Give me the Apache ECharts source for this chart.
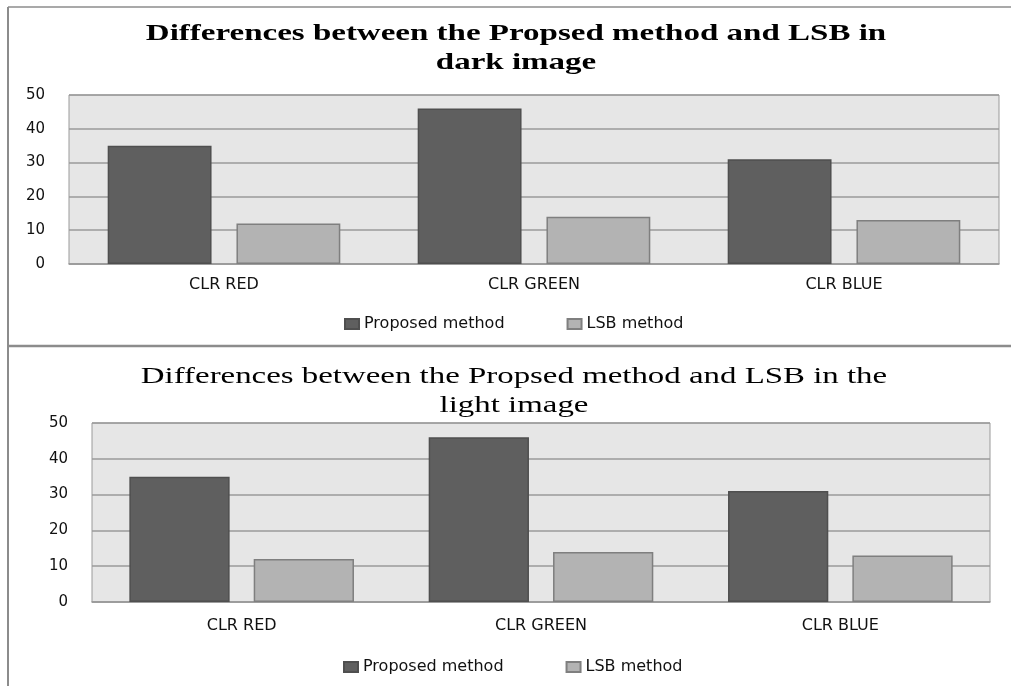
<!DOCTYPE html>
<html>
<head>
<meta charset="utf-8">
<script src="https://cdn.jsdelivr.net/npm/echarts@6/dist/echarts.min.js"></script>
<style>
html,body{margin:0;padding:0;background:#fff;}
#main{width:1011px;height:686px;}
</style>
</head>
<body>
<div id="main"></div>
<script>
const categories = ['CLR RED', 'CLR GREEN', 'CLR BLUE'];
const seriesNames = ['Proposed method', 'LSB method'];
const darkProposed = [35, 46, 31];
const darkLSB = [12, 14, 13];
const lightProposed = [35, 46, 31];
const lightLSB = [12, 14, 13];
const yTicks = [0, 10, 20, 30, 40, 50];

const topTitle = 'Differences between the Propsed method and LSB in\ndark image';
const bottomTitle = 'Differences between the Propsed method and LSB in the\nlight image';

const chart = echarts.init(document.getElementById('main'));
const sans = 'DejaVu Sans';
const serif = 'Liberation Serif';

function xAxisCfg(gridIndex, margin) {
  return {
    type: 'category', gridIndex: gridIndex, data: categories,
    axisTick: {show: false},
    axisLine: {lineStyle: {color: '#9a9a9a', width: 1.5}},
    axisLabel: {fontFamily: sans, fontSize: 16, color: '#111', margin: margin}
  };
}
function yAxisCfg(gridIndex) {
  return {
    type: 'value', gridIndex: gridIndex, min: yTicks[0], max: yTicks[yTicks.length - 1], interval: 10,
    axisLine: {show: false}, axisTick: {show: false},
    splitLine: {lineStyle: {color: '#9a9a9a', width: 1.5}},
    axisLabel: {fontFamily: sans, fontSize: 15, color: '#111', margin: 24}
  };
}
function barSeries(name, data, idx, color, border) {
  return {
    name: name, type: 'bar', xAxisIndex: idx, yAxisIndex: idx, data: data,
    barWidth: '33.5%', barGap: '24%',
    itemStyle: {color: color, borderColor: border, borderWidth: 1.5}
  };
}
const dark = '#5f5f5f', darkB = '#4f4f4f', light = '#b3b3b3', lightB = '#7f7f7f';
const legendText = {fontFamily: sans, fontSize: 16, color: '#111'};

chart.setOption({
  animation: false,
  backgroundColor: '#fff',
  legend: [
    {data: seriesNames.slice(), left: 339, top: 311, icon: 'rect', itemWidth: 14, itemHeight: 10, itemGap: 62,
     textStyle: legendText},
    {data: seriesNames.map(n => n + ' '), left: 338, top: 654, icon: 'rect', itemWidth: 14, itemHeight: 10, itemGap: 62,
     textStyle: legendText, formatter: n => n.trim()}
  ],
  grid: [
    {left: 69, top: 95, width: 930, height: 169, backgroundColor: '#e6e6e6', show: true, borderColor: '#9a9a9a', borderWidth: 1},
    {left: 92, top: 423, width: 898, height: 179, backgroundColor: '#e6e6e6', show: true, borderColor: '#9a9a9a', borderWidth: 1}
  ],
  xAxis: [xAxisCfg(0, 13), xAxisCfg(1, 16)],
  yAxis: [yAxisCfg(0), yAxisCfg(1)],
  series: [
    barSeries(seriesNames[0], darkProposed, 0, dark, darkB),
    barSeries(seriesNames[1], darkLSB, 0, light, lightB),
    barSeries(seriesNames[0] + ' ', lightProposed, 1, dark, darkB),
    barSeries(seriesNames[1] + ' ', lightLSB, 1, light, lightB)
  ],
  graphic: [
    {type: 'text', x: 516, y: 48, scaleX: 1.375,
     style: {text: topTitle, align: 'center', verticalAlign: 'middle', fontFamily: serif, fontWeight: 'bold',
             fontSize: 24, lineHeight: 29, fill: '#000'}},
    {type: 'text', x: 514, y: 391, scaleX: 1.37,
     style: {text: bottomTitle, align: 'center', verticalAlign: 'middle', fontFamily: serif, fontWeight: 'normal',
             fontSize: 24, lineHeight: 29, fill: '#000'}},
    {type: 'line', shape: {x1: 8, y1: 7, x2: 1011, y2: 7}, style: {stroke: '#8c8c8c', lineWidth: 1.5}},
    {type: 'line', shape: {x1: 8, y1: 7, x2: 8, y2: 686}, style: {stroke: '#8c8c8c', lineWidth: 2}},
    {type: 'line', shape: {x1: 8, y1: 346, x2: 1011, y2: 346}, style: {stroke: '#8c8c8c', lineWidth: 2.5}}
  ]
});
</script>
</body>
</html>
